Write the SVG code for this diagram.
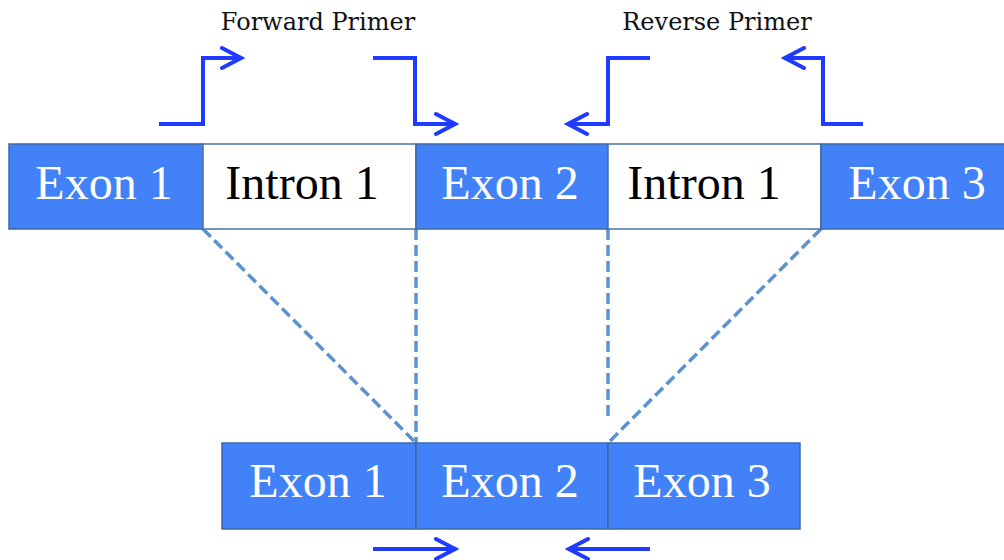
<svg xmlns="http://www.w3.org/2000/svg" width="1004" height="560" viewBox="0 0 1004 560">
  <style>
    .exon { fill: #4281f8; stroke: #3d6aa5; stroke-width: 1.5; }
    .intron { fill: #ffffff; stroke: #4a72a6; stroke-width: 1.5; }
    .lbl { font-family: "Liberation Serif", "Times New Roman", serif; font-size: 48px; text-anchor: middle; }
    .w { fill: #ffffff; }
    .k { fill: #000000; }
    .primer { font-family: "DejaVu Serif", "Liberation Serif", serif; font-size: 24px; fill: #111111; text-anchor: middle; }
    .dash { stroke: #5b92cf; stroke-width: 3.5; stroke-dasharray: 11 5; fill: none; }
    .arrow { stroke: #1e3bff; stroke-width: 4; fill: none; stroke-linejoin: miter; marker-end: url(#head); }
  </style>
  <defs>
    <marker id="head" viewBox="-24 -14 28 28" markerWidth="28" markerHeight="28" refX="0" refY="0" orient="auto" markerUnits="userSpaceOnUse">
      <path d="M -19 -10 L 0 0 L -19 10" fill="none" stroke="#1e3bff" stroke-width="4" stroke-linecap="round" stroke-linejoin="miter"/>
    </marker>
  </defs>
  <rect width="1004" height="560" fill="#ffffff"/>

  <g id="connectors">
    <line class="dash" x1="203" y1="229" x2="416" y2="443"/>
    <line class="dash" x1="416" y1="229" x2="416" y2="443"/>
    <line class="dash" x1="608" y1="229" x2="608" y2="421"/>
    <line class="dash" x1="821" y1="229" x2="608" y2="443"/>
  </g>

  <g id="top-exon1"><rect class="exon" x="9" y="144" width="194" height="85"/><text class="lbl w" x="104" y="199">Exon 1</text></g>
  <g id="top-intron1"><rect class="intron" x="203" y="144" width="213" height="85"/><text class="lbl k" x="302" y="199">Intron 1</text></g>
  <g id="top-exon2"><rect class="exon" x="416" y="144" width="192" height="85"/><text class="lbl w" x="510" y="199">Exon 2</text></g>
  <g id="top-intron2"><rect class="intron" x="608" y="144" width="213" height="85"/><text class="lbl k" x="704" y="199">Intron 1</text></g>
  <g id="top-exon3"><rect class="exon" x="821" y="144" width="200" height="85"/><text class="lbl w" x="917" y="199">Exon 3</text></g>

  <g id="bottom-exon1"><rect class="exon" x="222" y="443" width="194" height="86"/><text class="lbl w" x="318" y="497">Exon 1</text></g>
  <g id="bottom-exon2"><rect class="exon" x="416" y="443" width="192" height="86"/><text class="lbl w" x="510" y="497">Exon 2</text></g>
  <g id="bottom-exon3"><rect class="exon" x="608" y="443" width="192" height="86"/><text class="lbl w" x="702" y="497">Exon 3</text></g>

  <g id="forward-primer">
    <text class="primer" x="318" y="30">Forward Primer</text>
    <path class="arrow" d="M 159 124 L 203 124 L 203 58 L 241 58"/>
    <path class="arrow" d="M 373 58 L 415 58 L 415 124 L 455 124"/>
  </g>
  <g id="reverse-primer">
    <text class="primer" x="717" y="30">Reverse Primer</text>
    <path class="arrow" d="M 650 58 L 608 58 L 608 124 L 568 124"/>
    <path class="arrow" d="M 863 124 L 823 124 L 823 58 L 785 58"/>
  </g>
  <g id="bottom-primers">
    <path class="arrow" d="M 373 549 L 455 549"/>
    <path class="arrow" d="M 650 549 L 569 549"/>
  </g>
</svg>
